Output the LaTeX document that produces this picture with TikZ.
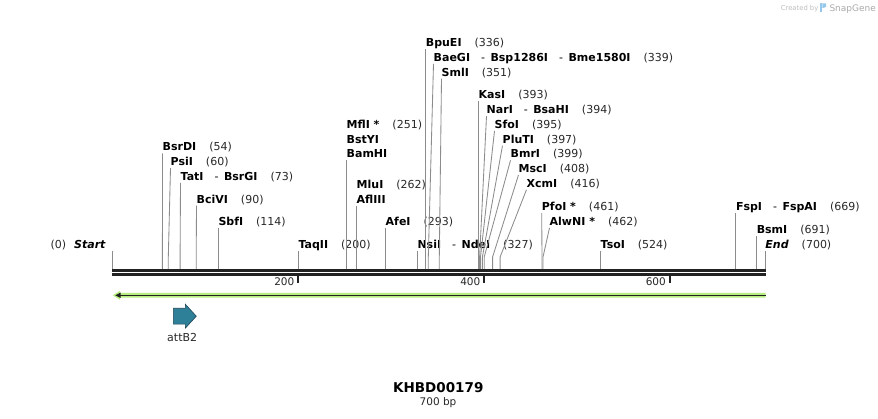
\documentclass[tikz,border=0pt]{standalone}
\usepackage{fontspec}
\setmainfont{DejaVu Sans}
\definecolor{sline}{RGB}{140,140,140}
\definecolor{barc}{RGB}{34,34,34}
\definecolor{numc}{RGB}{40,40,40}
\definecolor{fgreen}{RGB}{183,238,130}
\definecolor{featteal}{RGB}{46,127,152}
\definecolor{featedge}{RGB}{30,70,85}
\definecolor{wmgray}{RGB}{190,190,190}
\definecolor{logoblue}{RGB}{150,200,235}
\tikzset{
  lab/.style={inner sep=0pt, anchor=base west, font=\fontsize{11}{12}\selectfont, text=black},
  siteline/.style={draw=sline, line width=0.85pt},
  tickmark/.style={draw=barc, line width=1.8pt},
  ticklab/.style={inner sep=0pt, anchor=base east, font=\fontsize{10.5}{12}\selectfont, text=numc},
}
\newcommand\nm[1]{\textbf{#1}}
\newcommand\ps[1]{\hspace{13pt}{\color{numc}(#1)}}
\newcommand\sepr{\hspace{11pt}{\mdseries -}\hspace{5.5pt}}
% id, label x, baseline, site x, text
\newcommand\site[5]{%
  \node[lab] (L#1) at (#2,#3) {#5};
  \coordinate (T#1) at (#2,#3+2.5);
  \coordinate (B#1) at (#4,257);
  \coordinate (S#1) at (#4,269.3);
  \draw[siteline] (T#1) -- (B#1) -- (S#1);}
\begin{document}
\begin{tikzpicture}[x=1pt,y=-1pt]
\useasboundingbox (0,0) rectangle (878,419);
\fill[white] (0,0) rectangle (878,419);

% watermark
\node[inner sep=0pt, anchor=base west, font=\fontsize{6.8}{8}\selectfont, text=wmgray] (wm1) at (780.7,10.8) {Created by};
\fill[logoblue] (820,3.5) rectangle (822.4,12);
\fill[logoblue] (822.4,3.5) -- (826,3.5) -- (826,7) -- (822.4,8.2) -- cycle;
\node[inner sep=0pt, anchor=base west, font=\fontsize{9}{10}\selectfont, text=wmgray!90!black] (wm2) at (829.3,11.5) {SnapGene};

% sites
\node[inner sep=0pt, anchor=base east, font=\fontsize{11}{12}\selectfont] (Lstart) at (106,248.5) {{\color{numc}(0)}\hspace{8pt}\textbf{\textit{Start}}};
\coordinate (Tstart) at (112,251);
\coordinate (Sstart) at (112,269.3);
\draw[siteline] (Tstart) -- (Sstart);

\site{bsrdi}{162.5}{151}{162.4}{\nm{BsrDI}\ps{54}}
\site{psii}{170.5}{165.7}{168.3}{\nm{PsiI}\ps{60}}
\site{tati}{180.5}{180.4}{180.1}{\nm{TatI}\sepr\nm{BsrGI}\ps{73}}
\site{bcivi}{196.5}{203.2}{196.2}{\nm{BciVI}\ps{90}}
\site{sbfi}{218.3}{225.8}{218.3}{\nm{SbfI}\ps{114}}
\site{taqii}{298.4}{248.5}{298.4}{\nm{TaqII}\ps{200}}

\node[lab] (Lmfli) at (346.5,128.6) {\nm{MflI *}\ps{251}};
\node[lab] (Lbstyi) at (346.5,143.3) {\nm{BstYI}};
\site{bamhi}{346.5}{158}{346.5}{\nm{BamHI}}

\node[lab] (Lmlui) at (356.5,188.8) {\nm{MluI}\ps{262}};
\site{afliii}{356.5}{203.5}{356.5}{\nm{AflIII}}

\site{afei}{385.5}{225.8}{385.5}{\nm{AfeI}\ps{293}}
\site{nsii}{417.3}{248.5}{417.3}{\nm{NsiI}\sepr\nm{NdeI}\ps{327}}

\site{bpuei}{425.7}{46.7}{425.7}{\nm{BpuEI}\ps{336}}
\site{baegi}{433.5}{61.4}{428.3}{\nm{BaeGI}\sepr\nm{Bsp1286I}\sepr\nm{Bme1580I}\ps{339}}
\site{smli}{441.5}{76.1}{439.3}{\nm{SmlI}\ps{351}}

\site{kasi}{478.5}{99}{478.5}{\nm{KasI}\ps{393}}
\site{nari}{486.5}{113.7}{479.6}{\nm{NarI}\sepr\nm{BsaHI}\ps{394}}
\site{sfoi}{494.5}{128.4}{480.5}{\nm{SfoI}\ps{395}}
\site{pluti}{502.5}{143.1}{482.4}{\nm{PluTI}\ps{397}}
\site{bmri}{510.5}{157.8}{484.2}{\nm{BmrI}\ps{399}}
\site{msci}{518.5}{172.5}{492.6}{\nm{MscI}\ps{408}}
\site{xcmi}{526.5}{187.2}{500.1}{\nm{XcmI}\ps{416}}
\site{pfoi}{541.7}{210.7}{542}{\nm{PfoI *}\ps{461}}
\site{alwni}{549.5}{225.4}{543}{\nm{AlwNI *}\ps{462}}
\site{tsoi}{600.5}{248.5}{600.5}{\nm{TsoI}\ps{524}}
\site{fspi}{735.8}{210.7}{735.8}{\nm{FspI}\sepr\nm{FspAI}\ps{669}}
\site{bsmi}{756.6}{233.6}{756.6}{\nm{BsmI}\ps{691}}
\site{end}{765.2}{248.5}{765.2}{\textbf{\textit{End}}\ps{700}}

% sequence bars
\fill[barc] (112,269.3) rectangle (765.7,272);
\fill[barc] (112,273) rectangle (765.7,275.7);

% ticks
\coordinate (k200) at (298.3,275.7);
\coordinate (k200e) at (298.3,282.6);
\draw[tickmark] (k200) -- (k200e);
\node[ticklab] (t200) at (294.5,285.8) {200};
\coordinate (k400) at (484,275.7);
\coordinate (k400e) at (484,282.6);
\draw[tickmark] (k400) -- (k400e);
\node[ticklab] (t400) at (480.5,285.8) {400};
\coordinate (k600) at (669.7,275.7);
\coordinate (k600e) at (669.7,282.6);
\draw[tickmark] (k600) -- (k600e);
\node[ticklab] (t600) at (666,285.8) {600};

% green feature arrow (reverse)
\fill[fgreen] (765.5,293) -- (120,293) -- (120,290.8) -- (112.8,295.3) -- (120,299.8) -- (120,297.6) -- (765.5,297.6) -- cycle;
\draw[barc, line width=1.5pt] (765.5,295.3) -- (118,295.3);
\fill[barc] (115.3,295.3) -- (120.5,292.6) -- (120.5,298) -- cycle;

% attB2 feature
\filldraw[fill=featteal, draw=featedge, line width=0.6pt] (173.3,308.3) -- (185.3,308.3) -- (185.3,304.2) -- (196.3,316.2) -- (185.3,328.2) -- (185.3,324.2) -- (173.3,324.2) -- cycle;
\node[inner sep=0pt, anchor=base, font=\fontsize{11}{12}\selectfont, text=numc] (attb2) at (182.2,341.6) {attB2};

% title
\node[inner sep=0pt, anchor=base, font=\fontsize{13.5}{15}\selectfont\bfseries] (title) at (438.3,392.7) {KHBD00179};
\node[inner sep=0pt, anchor=base, font=\fontsize{10.5}{12}\selectfont, text=numc] (size) at (438,405.7) {700 bp};
\end{tikzpicture}
\end{document}
